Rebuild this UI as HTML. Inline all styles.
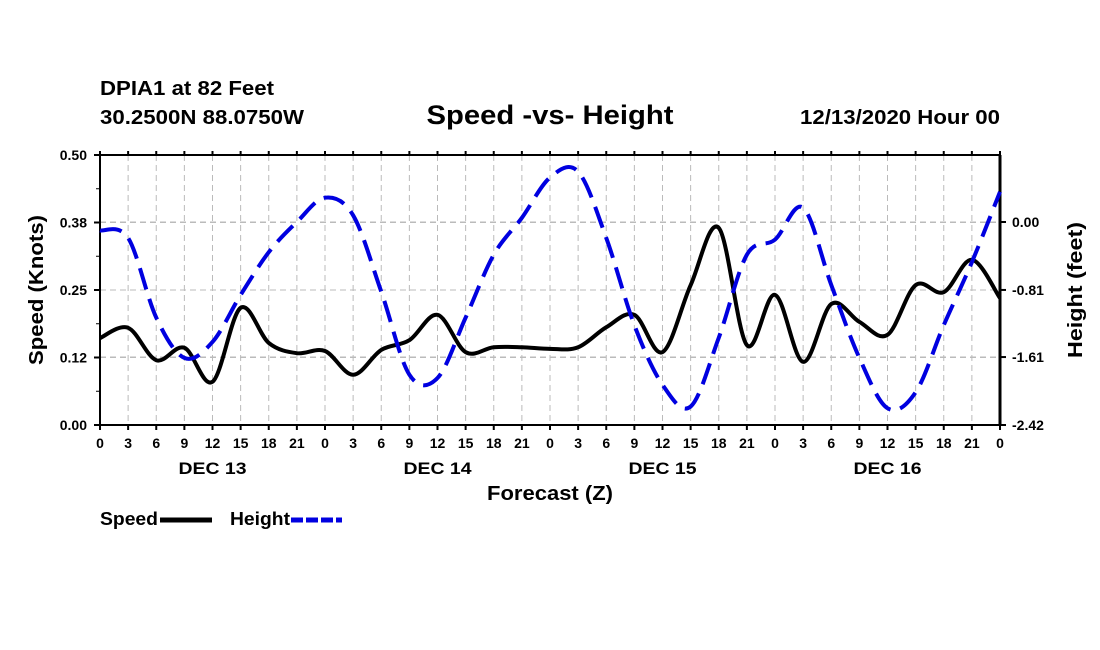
<!DOCTYPE html>
<html><head><meta charset="utf-8"><style>
body{margin:0;background:#fff;}
svg{display:block;font-family:"Liberation Sans",sans-serif;font-weight:bold;}
</style></head><body>
<svg id="chart" width="1100" height="650" viewBox="0 0 1100 650"></svg>
<script>
const hours = [0,3,6,9,12,15,18,21,24,27,30,33,36,39,42,45,48,51,54,57,60,63,66,69,72,75,78,81,84,87,90,93,96];
const speedValues = [0.161,0.180,0.120,0.143,0.080,0.217,0.152,0.133,0.137,0.093,0.139,0.157,0.204,0.135,0.144,0.144,0.141,0.144,0.181,0.204,0.135,0.259,0.365,0.148,0.241,0.117,0.224,0.191,0.167,0.259,0.246,0.306,0.235];
const heightValues = [-0.10,-0.19,-1.14,-1.62,-1.43,-0.87,-0.36,0.00,0.29,0.08,-0.83,-1.82,-1.86,-1.14,-0.39,0.05,0.53,0.60,-0.19,-1.23,-1.94,-2.20,-1.38,-0.39,-0.21,0.17,-0.75,-1.62,-2.22,-2.03,-1.23,-0.48,0.36];
const speedTicks = ["0.00","0.12","0.25","0.38","0.50"];
const speedTickVals = [0,0.125,0.25,0.375,0.5];
const heightTicks = ["-2.42","-1.61","-0.81","0.00"];
const heightTickVals = [-2.42,-1.61,-0.81,0];
const dayLabels = ["DEC 13","DEC 14","DEC 15","DEC 16"];

const X0=100,X1=1000,Y0=425,Y1=155;
const xs=h=>X0+(h/96)*(X1-X0);
const ys=v=>Y0-(v/0.5)*(Y0-Y1);
const yh=v=>222-v*(203/2.42);
const svg=document.getElementById('chart');
const NS='http://www.w3.org/2000/svg';
function mk(tag,attrs,parent){const e=document.createElementNS(NS,tag);for(const k in attrs)e.setAttribute(k,attrs[k]);(parent||svg).appendChild(e);return e;}
function txt(s,x,y,size,anchor,name,len){const t=mk('text',{x:x,y:y,'font-size':size,'text-anchor':anchor||'start',fill:'#000'});t.textContent=s;
if(len){t.setAttribute('textLength',len);t.setAttribute('lengthAdjust','spacingAndGlyphs');}


return t;}

txt('DPIA1 at 82 Feet',100,95,20,'start','station-label',174);
txt('30.2500N 88.0750W',100,124,20,'start','coordinates-label',204);
txt('Speed -vs- Height',550,124,27,'middle','chart-title',247);
txt('12/13/2020 Hour 00',1000,124,20,'end','date-label',200);

// grid
const grid=mk('g',{stroke:'#bbb','stroke-width':1,'stroke-dasharray':'6,4'});


for(let h=3;h<96;h+=3){mk('line',{x1:xs(h),x2:xs(h),y1:Y1,y2:Y0},grid);}
speedTickVals.forEach(v=>{mk('line',{x1:X0,x2:X1,y1:ys(v),y2:ys(v)},grid);});
heightTickVals.forEach(v=>{mk('line',{x1:X0,x2:X1,y1:yh(v),y2:yh(v)},grid);});

// axes
const ax=mk('g',{stroke:'#000','stroke-width':2});


mk('line',{x1:X0,x2:X0,y1:Y1,y2:Y0},ax);
mk('line',{x1:X1,x2:X1,y1:Y1,y2:Y0,'stroke-width':3},ax);
mk('line',{x1:X0,x2:X1,y1:Y1,y2:Y1},ax);
mk('line',{x1:X0,x2:X1,y1:Y0,y2:Y0},ax);
speedTickVals.forEach((v,i)=>{mk('line',{x1:X0-6,x2:X0,y1:ys(v),y2:ys(v)},ax);
txt(speedTicks[i],X0-13,ys(v)+5,14,'end','speed-tick-label');});
for(let v=0.0625;v<0.5;v+=0.125)mk('line',{x1:X0-4,x2:X0,y1:ys(v),y2:ys(v),'stroke-width':1},ax);
heightTickVals.forEach((v,i)=>{mk('line',{x1:X1,x2:X1+6,y1:yh(v),y2:yh(v)},ax);
txt(heightTicks[i],X1+12,yh(v)+5,14,'start','height-tick-label');});
for(let h=0;h<=96;h+=3){mk('line',{x1:xs(h),x2:xs(h),y1:Y0,y2:Y0+5},ax);mk('line',{x1:xs(h),x2:xs(h),y1:Y1-4,y2:Y1},ax);
txt(String(h%24),xs(h),Y0+23,14,'middle','x-tick-label');}
dayLabels.forEach((d,i)=>txt(d,xs(12+24*i),Y0+49,17,'middle','day-label',68));
txt('Forecast (Z)',550,Y0+75,20,'middle','x-axis-title',126);
const yt=txt('Speed (Knots)',0,0,20,'middle','y-axis-title',150);yt.setAttribute('transform','translate(43,290) rotate(-90)');
const yt2=txt('Height (feet)',0,0,20,'middle','y2-axis-title',136);yt2.setAttribute('transform','translate(1082,290) rotate(-90)');

function smooth(pts){let d='M'+pts[0][0]+','+pts[0][1];
for(let i=0;i<pts.length-1;i++){const p0=pts[i-1]||pts[i],p1=pts[i],p2=pts[i+1],p3=pts[i+2]||p2;
d+=' C'+(p1[0]+(p2[0]-p0[0])/6)+','+(p1[1]+(p2[1]-p0[1])/6)+' '+(p2[0]-(p3[0]-p1[0])/6)+','+(p2[1]-(p3[1]-p1[1])/6)+' '+p2[0]+','+p2[1];}
return d;}
const sp=mk('path',{d:smooth(hours.map((h,i)=>[xs(h),ys(speedValues[i])])),fill:'none',stroke:'#000','stroke-width':4});


const hp=mk('path',{d:smooth(hours.map((h,i)=>[xs(h),yh(heightValues[i])])),fill:'none',stroke:'#0000e0','stroke-width':4,'stroke-dasharray':'22,10'});



txt('Speed',100,525,18,'start','legend-speed-label',58);
const l1=mk('line',{x1:160,x2:212,y1:520,y2:520,stroke:'#000','stroke-width':5});


txt('Height',230,525,18,'start','legend-height-label',60);
const l2=mk('line',{x1:291,x2:342,y1:520,y2:520,stroke:'#0000e0','stroke-width':5,'stroke-dasharray':'12,3'});


</script>
</body></html>
